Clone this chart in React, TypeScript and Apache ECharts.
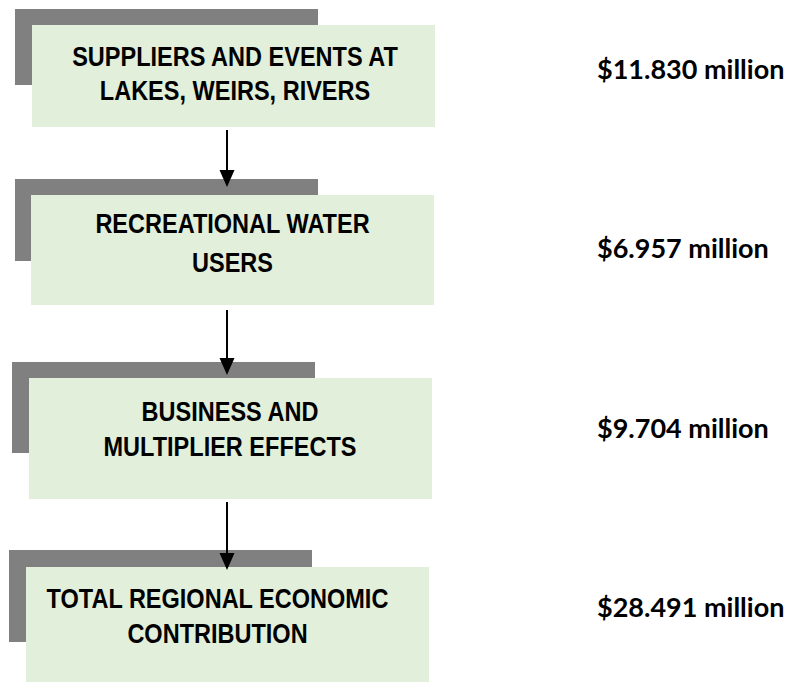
import React, { useEffect, useRef } from "react";
import * as echarts from "echarts";

// ---- Data ----
const stageLabels: string[] = [
  "SUPPLIERS AND EVENTS AT\nLAKES, WEIRS, RIVERS",
  "RECREATIONAL WATER\nUSERS",
  "BUSINESS AND\nMULTIPLIER EFFECTS",
  "TOTAL REGIONAL ECONOMIC\nCONTRIBUTION",
];
const valuesMillion: number[] = [11.83, 6.957, 9.704, 28.491];
const valueLabels: string[] = valuesMillion.map((v) => `$${v.toFixed(3)} million`);

// ---- Layout (pixels) ----
const boxX = [32, 31, 29, 26];
const boxY = [25, 195, 378, 567];
const boxW = 403;
const boxH = [102, 110, 121, 120];
const shadowX = [15, 15, 12, 9];
const shadowY = [9, 179, 362, 550];
const shadowW = 303;
const shadowH = [76, 82, 91, 92];
const textCx = [235, 232.5, 230, 217.5];
const textCy = [73, 242.5, 429, 615.5];
const textLh = [34, 39, 35, 35];
const valueX = 597;
const valueCy = [68, 247.5, 427, 606.5];
const arrowX = 227;
const arrowY1 = [130, 310, 502];
const arrowY2 = [187, 375, 570];

const GREEN = "#E2EFDA";
const GREY = "#808080";

export default function App() {
  const ref = useRef<HTMLDivElement>(null);
  useEffect(() => {
    if (!ref.current) return;
    const chart = echarts.init(ref.current, null, { renderer: "svg" });
    const elements: any[] = [];
    stageLabels.forEach((label, i) => {
      elements.push({
        type: "rect",
        shape: { x: shadowX[i], y: shadowY[i], width: shadowW, height: shadowH[i] },
        style: { fill: GREY },
        silent: true,
      });
      elements.push({
        type: "rect",
        shape: { x: boxX[i], y: boxY[i], width: boxW, height: boxH[i] },
        style: { fill: GREEN },
        silent: true,
      });
      elements.push({
        type: "text",
        x: textCx[i],
        y: textCy[i],
        scaleX: 0.84,
        style: {
          text: label,
          x: 0,
          y: 0,
          align: "center",
          verticalAlign: "middle",
          lineHeight: textLh[i],
          fontFamily: "'Liberation Sans', Arial, sans-serif",
          fontWeight: "bold",
          fontSize: 28,
          fill: "#000",
        },
        silent: true,
      });
      elements.push({
        type: "text",
        style: {
          text: valueLabels[i],
          x: valueX,
          y: valueCy[i],
          align: "left",
          verticalAlign: "middle",
          fontFamily: "Lato, sans-serif",
          fontWeight: "bold",
          fontSize: 27,
          fill: "#000",
        },
        silent: true,
      });
    });
    arrowY1.forEach((y1, i) => {
      const y2 = arrowY2[i];
      const headH = 17;
      const headW = 15;
      elements.push({
        type: "line",
        shape: { x1: arrowX, y1, x2: arrowX, y2: y2 - headH + 1 },
        style: { stroke: "#000", lineWidth: 2 },
        silent: true,
      });
      elements.push({
        type: "polygon",
        shape: {
          points: [
            [arrowX - headW / 2, y2 - headH],
            [arrowX + headW / 2, y2 - headH],
            [arrowX, y2],
          ],
        },
        style: { fill: "#000" },
        silent: true,
      });
    });
    chart.setOption({
      animation: false,
      backgroundColor: "#ffffff",
      graphic: { elements },
    });
    return () => chart.dispose();
  }, []);
  return (
    <div
      ref={ref}
      style={{ position: "absolute", left: 0, top: 0, width: 787, height: 682 }}
    />
  );
}
